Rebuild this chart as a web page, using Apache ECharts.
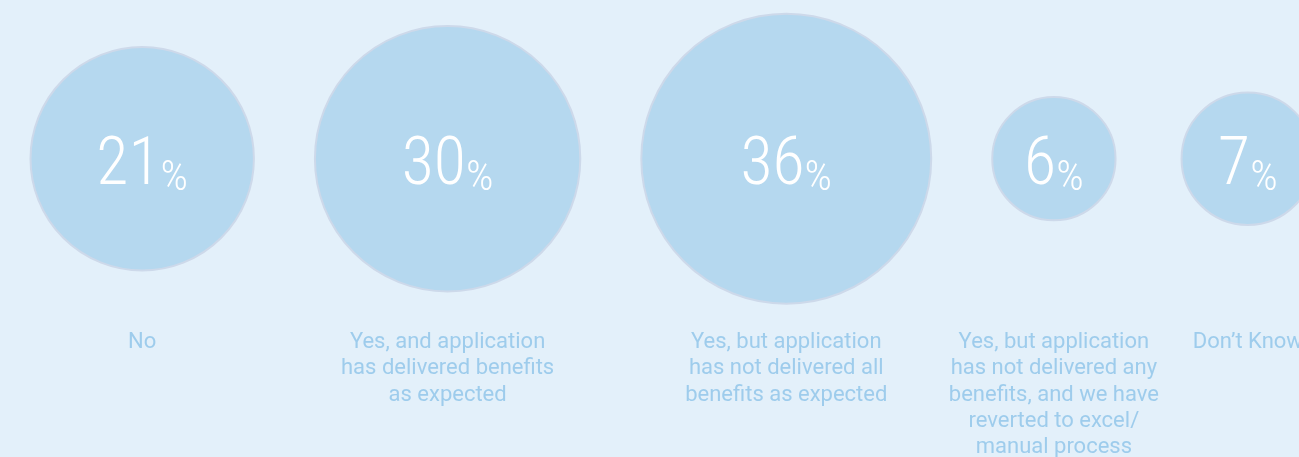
<!DOCTYPE html>
<html>
<head>
<meta charset="utf-8">
<script src="https://cdn.jsdelivr.net/npm/echarts@6/dist/echarts.min.js"></script>
<style>
html,body{margin:0;padding:0;background:#e3f0fa;}
#c{width:1299px;height:457px;}
</style>
</head>
<body>
<div id="c"></div>
<script>
var categories = [
  "No",
  "Yes, and application\nhas delivered benefits\nas expected",
  "Yes, but application\nhas not delivered all\nbenefits as expected",
  "Yes, but application\nhas not delivered any\nbenefits, and we have\nreverted to excel/\nmanual process",
  "Don\u2019t Know"
];
var values = [21, 30, 36, 6, 7];

// layout constants: bubble radius grows with sqrt(value); bubbles laid out left to right
var R0 = 4.2, K = 23.46, LEFT = 30.5, CY = 158.7, LABEL_TOP = 329.5;
var GAPS = [61, 61, 61, 66];
var radii = values.map(function (v) { return R0 + K * Math.sqrt(v); });
var xs = [];
var cur = 0;
radii.forEach(function (r, i) {
  if (i === 0) { cur = LEFT + r; } else { cur = cur + radii[i - 1] + GAPS[i - 1] + r; }
  xs.push(cur);
});

var bubbleData = values.map(function (v, i) {
  return { value: [xs[i], CY, v], symbolSize: radii[i] * 2 };
});
var labelData = categories.map(function (c, i) {
  return { value: [xs[i], LABEL_TOP], name: c };
});

var chart = echarts.init(document.getElementById('c'));
chart.setOption({
  backgroundColor: '#e3f0fa',
  animation: false,
  grid: { left: 0, right: 0, top: 0, bottom: 0 },
  xAxis: { type: 'value', min: 0, max: 1299, show: false },
  yAxis: { type: 'value', min: 0, max: 457, inverse: true, show: false },
  series: [
    {
      type: 'scatter',
      data: bubbleData,
      itemStyle: { color: '#b5d8ef', borderColor: '#cdd9ea', borderWidth: 2, opacity: 1 },
      label: {
        show: true,
        position: 'inside',
        offset: [0, 7],
        formatter: function (p) { return '{n|' + p.value[2] + '}{p|%}'; },
        rich: {
          n: { fontFamily: 'Roboto Condensed', fontSize: 66, color: '#ffffff', fontWeight: 300, verticalAlign: 'bottom', lineHeight: 70 },
          p: { fontFamily: 'Roboto Condensed', fontSize: 43, color: '#ffffff', fontWeight: 300, verticalAlign: 'bottom', lineHeight: 62 }
        }
      },
      emphasis: { disabled: true }
    },
    {
      type: 'scatter',
      data: labelData,
      symbolSize: 0,
      label: {
        show: true,
        position: 'inside',
        formatter: function (p) { return p.name; },
        color: '#8cc3e8',
        fontFamily: 'Roboto',
        fontSize: 22,
        lineHeight: 26.3,
        align: 'center',
        verticalAlign: 'top'
      },
      emphasis: { disabled: true }
    }
  ]
});
</script>
</body>
</html>
